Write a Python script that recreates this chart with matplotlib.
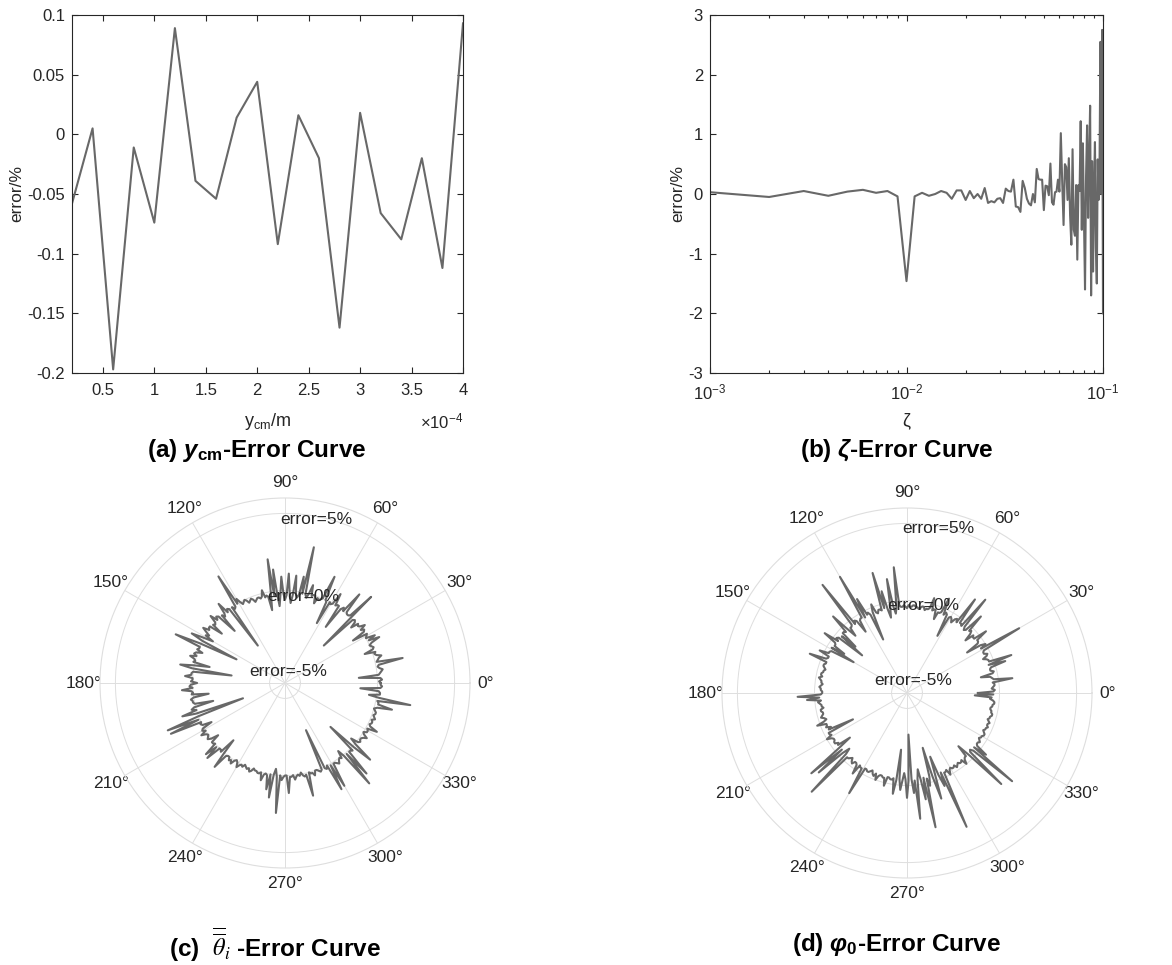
import numpy as np
import matplotlib
matplotlib.use('Agg')
from matplotlib import pyplot as plt
from matplotlib.ticker import FuncFormatter

plt.rcParams['font.family'] = ['Liberation Sans', 'DejaVu Sans']
plt.rcParams['axes.unicode_minus'] = False
plt.rcParams['mathtext.fontset'] = 'custom'
plt.rcParams['mathtext.rm'] = 'Liberation Sans'
plt.rcParams['mathtext.it'] = 'Liberation Sans:italic'
plt.rcParams['mathtext.bf'] = 'Liberation Sans:bold'
plt.rcParams['mathtext.bfit'] = 'Liberation Sans:bold:italic'

# (a) y_cm - error
ycm = [0.2e-4, 0.4e-4, 0.6e-4, 0.8e-4, 1.0e-4, 1.2e-4, 1.4e-4, 1.6e-4, 1.8e-4, 2.0e-4,
       2.2e-4, 2.4e-4, 2.6e-4, 2.8e-4, 3.0e-4, 3.2e-4, 3.4e-4, 3.6e-4, 3.8e-4, 4.0e-4]
err_ycm = [-0.058, 0.005, -0.197, -0.011, -0.074, 0.089, -0.039, -0.054, 0.014, 0.044,
           -0.092, 0.016, -0.020, -0.162, 0.018, -0.066, -0.088, -0.020, -0.112, 0.093]

# (b) zeta - error, zeta = 0.001 ... 0.1
zeta = np.arange(1, 101) * 1e-3
err_zeta = [0.03, -0.05, 0.05, -0.03, 0.04, 0.07, 0.02, 0.05, -0.04, -1.46,
            -0.04, 0.02, -0.03, 0.00, 0.05, 0.02, -0.08, 0.06, 0.06, -0.10,
            0.05, -0.07, 0.00, -0.08, 0.10, -0.15, -0.12, -0.14, -0.08, -0.07,
            -0.15, 0.09, 0.05, 0.04, 0.24, -0.21, -0.22, -0.30, 0.22, 0.10,
            -0.08, -0.16, -0.19, 0.00, -0.14, 0.42, 0.25, 0.24, 0.24, -0.27,
            0.14, 0.13, -0.02, 0.51, -0.14, -0.18, 0.03, 0.04, 0.24, 0.04,
            1.02, 0.20, -0.52, 0.50, 0.45, -0.10, 0.60, -0.35, -0.85, 0.75,
            -0.60, -0.70, 0.15, -1.10, 0.15, 0.05, 1.22, -0.60, 0.85, -0.40,
            -1.60, 0.30, 1.15, -0.40, 0.60, 1.48, -1.70, 0.55, -1.30, 0.10,
            0.87, -0.90, -1.50, 0.58, -0.10, 0.40, 2.55, 0.00, 2.75, -2.00]

# (c), (d) polar error curves, one value per degree (0..359)
ang_deg = np.arange(0, 360)
err_theta = [
    0.2, 0.1, 0.3, 0.2, -1.2, 0.1, 0.2, 0.3, 0.4, 0.2, 0.1, 0.2, 1.8, 0.1, 0.2, 0.3, 0.5, 0.2, 0.1, 0.2,
    -0.5, 0.1, 0.2, 0.1, 0.0, 0.2, 0.8, 0.1, 0.6, 0.0, 0.1, 0.2, -0.8, 0.1, 0.2, 0.0, 0.4, 0.1, 0.0, 0.1,
    -0.4, 0.0, 0.1, 0.0, -2.5, 1.9, 0.1, 0.0, 0.0, 0.1, 1.5, 0.0, 0.2, 0.0, -1.5, 0.1, 0.1, 0.0, 0.8, 0.0,
    -0.1, 0.0, -1.6, -0.1, 0.0, 1.6, 0.0, -0.1, -0.2, -0.1, -0.5, 0.0, 0.0, -0.1, 0.6, 0.0, -0.3, -0.1, 3.0, -0.1,
    1.0, -0.2, -0.4, -0.2, 1.0, -0.3, -0.8, -0.2, 1.1, -0.3, -0.6, -0.2, 0.9, -0.3, -1.0, -0.2, 1.4, -0.3, 2.1, -0.2,
    -1.2, -0.3, -0.2, -0.3, 0.2, -0.2, -0.3, -0.2, -0.2, -0.3, -0.4, -0.2, -0.1, -0.2, -0.3, -0.1, 0.0, -0.1, -0.2, 0.0,
    0.3, 0.0, 2.15, -0.1, -0.2, 0.0, -3.0, 0.0, 0.1, -0.1, 0.7, 0.0, -0.2, 0.0, -1.3, 0.1, 0.2, 0.0, 0.5, 0.0,
    -0.1, 0.0, -0.8, 0.1, 0.1, 0.0, 0.4, 0.1, -0.2, 0.0, -0.6, 0.1, 0.85, 0.0, -2.5, 0.1, 1.76, 0.0, 0.0, 0.1,
    -0.3, 0.1, 0.2, 0.0, 0.4, 0.1, 0.0, 0.1, -1.0, 0.0, 0.9, 0.1, -2.5, 0.0, 0.1, 0.1, 0.5, 0.0, 0.0, 0.1,
    -0.3, 0.1, 0.2, 0.0, 0.7, 0.1, 0.0, 0.1, -1.0, 0.0, 0.2, 0.1, 0.1, 0.0, -1.2, 0.1, 0.3, 0.0, 1.0, 0.1,
    -3.1, 0.0, 2.2, 0.1, 2.1, 0.0, 0.1, 0.0, -0.6, 0.1, 0.2, 0.0, 0.4, 0.1, 0.0, 0.1, 0.2, 0.0, -0.5, 0.1,
    0.1, 0.0, 0.9, 0.1, 1.0, 0.0, 0.0, 0.1, -1.0, 0.0, 1.1, 0.1, 0.0, 0.0, 0.2, 0.1, 0.3, 0.0, -0.1, 0.0,
    0.3, 0.1, 0.0, 0.1, -0.1, 0.0, 0.1, 0.0, 0.2, 0.1, -0.1, 0.0, 0.0, 0.1, 0.1, 0.0, 0.5, 0.1, 0.0, 0.1,
    1.0, 0.0, 1.5, 0.0, -0.4, 0.1, 2.45, 0.0, 0.3, 0.1, 0.0, 0.0, 1.14, 0.1, 0.1, 0.0, 0.3, 0.1, 0.0, 0.1,
    -0.1, 0.1, 0.2, 0.1, 1.53, 0.0, 0.1, 0.1, 0.3, 0.0, 0.0, 0.1, 0.2, 0.1, -2.65, 0.1, 0.2, 0.0, 1.8, 0.1,
    1.7, 0.1, 0.1, 0.2, 0.3, 0.1, 0.0, 0.1, -0.4, 0.1, 2.5, 0.1, 1.9, 0.1, 0.1, 0.2, -1.9, 0.1, 1.43, 0.1,
    -0.4, 0.1, 0.2, 0.1, 0.1, 0.2, 0.4, 0.1, 0.0, 0.2, 0.2, 0.1, 0.75, 0.2, 0.1, 0.2, 0.2, 0.1, 0.3, 0.2,
    0.1, 0.2, 0.2, 0.1, 0.0, 0.2, 1.15, 0.2, 0.2, 0.1, 2.25, 0.2, -0.5, 0.2, 0.2, 0.1, -1.1, 0.2, 0.3, 0.2]
err_phi = [
    -1.4, -0.4, -0.3, -0.5, -0.4, -0.3, -0.3, -0.4, 0.9, -0.3, -0.4, -0.5, -1.1, -0.3, -0.2, -0.4, -0.4, -0.3, 0.7, -0.4,
    1.2, -0.3, -0.3, -0.4, -0.6, -0.3, -0.2, -0.4, -0.4, -0.3, 2.4, -0.4, 0.0, -0.3, -1.3, -0.4, -0.3, -0.3, 0.5, -0.4,
    -0.4, -0.3, -0.9, -0.4, -0.2, -0.3, 0.9, -0.4, -0.5, -0.3, 1.9, -0.4, -0.3, -0.3, 1.5, -0.4, -0.2, -0.3, -0.6, -0.4,
    -0.3, -0.4, -1.8, -0.3, -0.2, -0.4, 0.7, -0.3, -0.4, -0.4, -0.9, -0.3, -0.3, -0.4, 0.4, -0.3, -0.4, -0.4, -0.5, -0.3,
    -0.3, -0.4, -0.5, -0.4, -0.4, -0.3, -0.3, -0.4, -0.4, -0.3, -0.5, -0.4, -0.3, -0.4, -0.4, -0.3, 2.2, -0.4, -0.8, -0.3,
    1.5, -0.3, -1.0, -0.4, 0.8, -0.3, 2.1, -0.4, -0.3, -0.3, -0.5, -0.4, 0.2, -0.3, -2.2, -0.4, -0.2, -0.3, 0.9, -0.4,
    2.7, -0.3, -0.3, -0.4, -1.2, -0.3, -0.2, -0.4, 2.9, -0.3, -0.4, -0.4, -1.0, -0.3, 0.9, -0.4, -0.3, -0.3, -1.5, -0.4,
    -2.2, -0.3, -0.2, -0.4, 0.6, -0.3, -0.4, -0.4, -1.2, -0.3, -2.0, -0.4, -0.3, -0.3, 0.3, -0.4, -0.4, -0.3, 0.8, -0.4,
    -0.4, -0.3, -0.3, -0.4, -0.5, -0.4, -0.4, -0.3, -0.3, -0.4, -0.2, -0.3, -0.4, -0.4, -0.5, -0.4, -0.3, -0.4, -0.4, -0.5,
    -0.5, -0.4, 1.1, -0.3, 0.5, -0.4, -0.2, -0.3, -0.4, -0.4, -0.5, -0.3, -0.3, -0.4, -0.4, -0.3, -0.2, -0.4, -0.5, -0.3,
    0.2, -0.4, -0.4, -0.3, -0.6, -0.4, -2.1, -0.3, -0.3, -0.4, 0.0, -0.3, -0.4, -0.4, -0.3, -0.3, -0.5, -0.4, -1.3, -0.3,
    2.1, -0.4, 1.7, -0.3, -0.8, -0.4, 2.9, -0.3, -0.3, -0.4, -0.5, -0.3, -0.2, -0.4, -0.4, -0.3, 0.3, -0.4, -0.3, -0.3,
    1.5, -0.4, -0.4, -0.3, -0.3, -0.4, -0.5, -0.3, -0.2, -0.4, 0.0, -0.3, -0.4, -0.4, -0.3, -0.3, 0.2, -0.4, -0.4, -0.3,
    -0.3, -0.4, 0.6, -0.3, -2.3, -0.4, 0.3, -0.3, -0.8, -0.4, 0.8, -0.3, -3.3, -0.4, 0.5, -0.3, 2.2, -0.4, -1.0, -0.3,
    1.0, -0.4, 2.9, -0.3, 0.2, -0.4, -2.3, -0.3, 1.2, -0.4, -1.6, -0.3, 0.5, -0.4, 3.5, -0.3, -0.3, -0.4, 0.0, -0.3,
    -0.4, -0.3, -0.3, -0.4, -0.2, -0.3, -0.4, -0.3, -0.3, -0.4, 0.0, -0.3, -0.4, -0.4, -1.2, -0.3, 2.5, -0.4, -0.5, -0.3,
    2.9, -0.4, 0.5, -0.3, -0.4, -0.4, -0.3, -0.4, -0.5, -0.4, -0.4, -0.3, -0.3, -0.4, -0.5, -0.4, -0.4, -0.3, -0.4, -0.4,
    -0.3, -0.4, -0.5, -0.4, -0.4, -0.3, -0.3, -0.4, -0.4, -0.5, -0.5, -0.4, -0.4, -0.3, -0.3, -0.4, -0.6, -0.5, -1.6, -0.4]

W, H = 1172, 965
LINE = '#686868'
AXC = '#262626'
GRID = '#dedede'
FS = 12

fig = plt.figure(figsize=(W / 100, H / 100), dpi=100)


def style_box(ax):
    for s in ax.spines.values():
        s.set_color(AXC)
        s.set_linewidth(0.8)
    ax.tick_params(which='both', direction='in', top=True, right=True,
                   colors=AXC, labelsize=FS, width=0.8)
    ax.tick_params(which='major', length=4)
    ax.tick_params(which='minor', length=2.5)
    ax.tick_params(axis='x', which='both', pad=7)
    ax.tick_params(axis='y', which='both', pad=5)


# ---- (a)
ax = fig.add_axes([72 / W, 1 - 373 / H, 391 / W, 358 / H])
ax.plot(ycm, err_ycm, color=LINE, lw=1.5)
ax.set_xlim(0.2e-4, 4e-4)
ax.set_ylim(-0.2, 0.1)
ax.set_xticks(np.arange(0.5, 4.01, 0.5) * 1e-4)
ax.set_yticks([-0.2, -0.15, -0.1, -0.05, 0, 0.05, 0.1])
ax.xaxis.set_major_formatter(FuncFormatter(lambda v, p: '%g' % round(v * 1e4, 4)))
ax.yaxis.set_major_formatter(FuncFormatter(lambda v, p: '%g' % round(v, 4)))
style_box(ax)
ax.set_ylabel('error/%', fontsize=12.5, color=AXC)
ax.yaxis.set_label_coords(-0.123, 0.5)
ax.set_xlabel(r'y$_{\mathrm{cm}}$/m', fontsize=13, color=AXC)
ax.xaxis.set_label_coords(0.5, -0.105)
ax.text(1.0, -0.134, r'$\times$10$^{-4}$', transform=ax.transAxes,
        ha='right', va='center', fontsize=FS, color=AXC)

# ---- (b)
bx = fig.add_axes([710 / W, 1 - 373 / H, 393 / W, 358 / H])
bx.semilogx(zeta, err_zeta, color=LINE, lw=1.5)
bx.set_xlim(1e-3, 1e-1)
bx.set_ylim(-3, 3)
bx.set_yticks([-3, -2, -1, 0, 1, 2, 3])
style_box(bx)
bx.set_ylabel('error/%', fontsize=12.5, color=AXC)
bx.yaxis.set_label_coords(-0.062, 0.5)
bx.set_xlabel('ζ', fontsize=13, color=AXC)
bx.xaxis.set_label_coords(0.5, -0.11)


# ---- polar panels
def polar_panel(rect, values, texts):
    px = fig.add_axes(rect, projection='polar')
    th = np.deg2rad(np.append(ang_deg, 360))
    px.plot(th, np.append(values, values[0]), color=LINE, lw=1.5)
    px.set_ylim(-6, 6)
    px.set_yticks([-5, 0, 5])
    px.set_yticklabels([])
    px.set_xticks(np.deg2rad(np.arange(0, 360, 30)))
    px.set_xticklabels(['%d°' % d for d in range(0, 360, 30)])
    px.grid(color=GRID, lw=0.7)
    px.spines['polar'].set_color(GRID)
    px.spines['polar'].set_linewidth(0.8)
    px.tick_params(axis='x', pad=1, labelsize=12.5, colors=AXC)
    for t_deg, r, s in texts:
        px.text(np.deg2rad(t_deg), r, s, ha='left', va='center',
                fontsize=12.5, color=AXC)
    return px


polar_panel([100 / W, 1 - 868 / H, 370 / W, 370 / H], err_theta,
            [(91.8, 4.58, 'error=5%'), (101.7, -0.24, 'error=0%'),
             (162.3, -3.55, 'error=-5%')])
polar_panel([722 / W, 1 - 878 / H, 370 / W, 370 / H], err_phi,
            [(91.7, 4.7, 'error=5%'), (102.8, -0.15, 'error=0%'),
             (158.5, -3.7, 'error=-5%')])

# ---- captions
cap = dict(ha='center', va='center', fontsize=17.5, fontweight='bold', color='black')
fig.text(257 / W, 1 - 451 / H, r'(a) $\mathbfit{y}_{\mathbf{cm}}$-Error Curve', **cap)
fig.text(897 / W, 1 - 451 / H, r'(b) $\mathbfit{\zeta}$-Error Curve', **cap)
fig.text(275 / W, 1 - 945 / H, r'(c)  $\overline{\overline{\theta}}_{i}$ -Error Curve',
         math_fontfamily='stix', **cap)
fig.text(897 / W, 1 - 945 / H, r'(d) $\mathbfit{\varphi}_{\mathbf{0}}$-Error Curve', **cap)

fig.savefig('out.png', dpi=100)
